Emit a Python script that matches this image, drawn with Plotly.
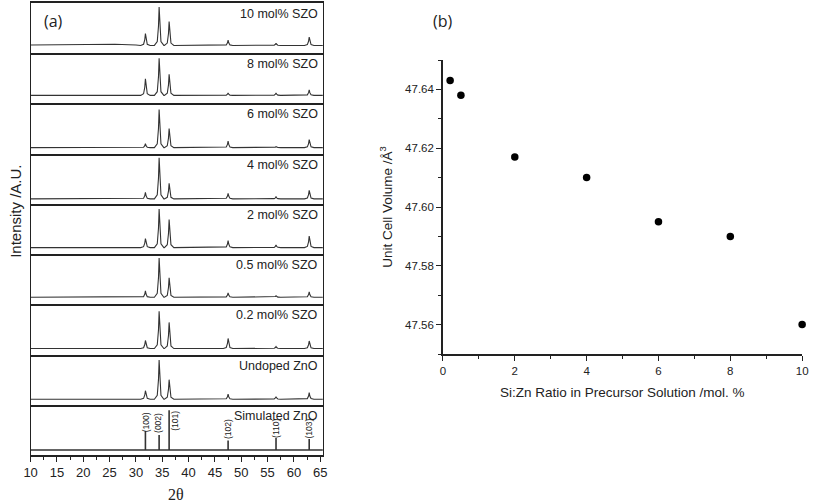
import plotly.graph_objects as go

# ---------------- data: panel (a) XRD patterns ----------------
samples = ["Simulated ZnO", "Undoped ZnO", "0.2 mol% SZO", "0.5 mol% SZO",
            "2 mol% SZO", "4 mol% SZO", "6 mol% SZO", "8 mol% SZO", "10 mol% SZO"]
peak_pos = [31.8, 34.4, 36.3, 47.5, 56.6, 62.9]
hkl_labels = ["(100)", "(002)", "(101)", "(102)", "(110)", "(103)"]
baseline = [0.10, 0.11, 0.12, 0.14, 0.13, 0.10, 0.12, 0.16, 0.155]
peak_heights = [
    [0.48, 0.40, 0.89, 0.29, 0.34, 0.32],  # Simulated
    [0.28, 0.89, 0.50, 0.21, 0.16, 0.24],  # Undoped
    [0.28, 0.86, 0.64, 0.32, 0.16, 0.27],  # 0.2
    [0.27, 0.92, 0.53, 0.23, 0.17, 0.25],  # 0.5
    [0.31, 0.90, 0.69, 0.27, 0.18, 0.36],  # 2
    [0.23, 0.92, 0.41, 0.21, 0.14, 0.27],  # 4
    [0.20, 0.88, 0.50, 0.25, 0.14, 0.28],  # 6
    [0.49, 0.90, 0.58, 0.21, 0.21, 0.27],  # 8
    [0.39, 0.92, 0.63, 0.26, 0.20, 0.32],  # 10
]
# amorphous background of the 10 mol% sample
hump_x = [10, 16, 21, 26, 30]
hump_y = [0.165, 0.175, 0.185, 0.18, 0.165]
hkl_label_x = [31.8, 34.3, 37.4, 47.5, 56.6, 62.9]
hkl_label_y = [0.66, 0.63, 0.68, 0.52, 0.52, 0.53]
two_theta_range = [10, 65.5]

# ---------------- data: panel (b) ----------------
si_zn_ratio = [0.2, 0.5, 2, 4, 6, 8, 10]
cell_volume = [47.643, 47.638, 47.617, 47.610, 47.595, 47.590, 47.560]

W, H = 817, 504
LINE = "#333333"
AX = "#222222"
SANS = "Liberation Sans, Arial, sans-serif"

# peak profile (style): offsets in degrees and fraction of peak height
prof_dx = [-0.9, -0.35, -0.12, 0, 0.12, 0.35, 0.9]
prof_f = [0, 0.1, 0.5, 1, 0.5, 0.1, 0]

fig = go.Figure()
layout = {}
ann = []

left_px, right_px = 24, 321
top_px, bot_px = 3, 455
ph = (bot_px - top_px) / len(samples)
n = len(samples)

for i, name in enumerate(samples):
    sfx = "" if i == 0 else str(i + 1)
    b = baseline[i]
    hts = peak_heights[i]
    xs, ys = [], []
    if i == 0:
        xs.append(two_theta_range[0]); ys.append(b)
        for p, h in zip(peak_pos, hts):
            xs += [p, p, p]; ys += [b, h, b]
        xs.append(two_theta_range[1]); ys.append(b)
        lw = 1.6
    else:
        if name == "10 mol% SZO":
            xs += hump_x; ys += hump_y
        else:
            xs.append(two_theta_range[0]); ys.append(b)
        for p, h in zip(peak_pos, hts):
            for dx, f in zip(prof_dx, prof_f):
                xs.append(p + dx); ys.append(b + f * (h - b))
        xs.append(two_theta_range[1]); ys.append(b)
        lw = 1.1
    fig.add_trace(go.Scatter(x=xs, y=ys, mode="lines", line=dict(color=LINE, width=lw),
                             xaxis="x" + sfx, yaxis="y" + sfx, showlegend=False,
                             hoverinfo="skip"))
    pb = bot_px - i * ph
    pt = pb - ph
    xa = dict(domain=[left_px / W, right_px / W], range=two_theta_range, anchor="y" + sfx,
              showline=True, mirror=(i == n - 1), linecolor=AX, linewidth=1.7, showgrid=False,
              zeroline=False)
    if i == 0:
        xa.update(ticks="outside", ticklen=5, tickwidth=1.1, tickcolor=AX, dtick=5, tick0=10,
                  tickfont=dict(family=SANS, size=13, color="#222"),
                  minor=dict(ticks="outside", ticklen=3, tickwidth=1, tickcolor=AX, dtick=2.5))
    else:
        xa.update(showticklabels=False, ticks="", matches="x")
    ya = dict(domain=[1 - pb / H, 1 - pt / H], range=[0, 1], anchor="x" + sfx,
              showline=True, mirror=True, linecolor=AX, linewidth=1.3, showgrid=False,
              zeroline=False, showticklabels=False, ticks="")
    layout["xaxis" + sfx] = xa
    layout["yaxis" + sfx] = ya
    ann.append(dict(text=name, xref="paper", yref="paper", x=318 / W, y=1 - (pt + 2) / H,
                    xanchor="right", yanchor="top", showarrow=False,
                    font=dict(family=SANS, size=12.5, color="#222")))

# hkl labels
for lab, lx, ly in zip(hkl_labels, hkl_label_x, hkl_label_y):
    ann.append(dict(text=lab, xref="x", yref="y", x=lx, y=ly, textangle=-90,
                    xanchor="center", yanchor="middle",
                    showarrow=False, font=dict(family=SANS, size=8.5, color="#222")))

# panel (b)
fig.add_trace(go.Scatter(x=si_zn_ratio, y=cell_volume, mode="markers",
                         marker=dict(color="black", size=7.5), xaxis="x10", yaxis="y10",
                         showlegend=False, cliponaxis=False))
layout["xaxis10"] = dict(domain=[443 / W, 808 / W], range=[0, 10], anchor="y10",
                         showline=True, linecolor=AX, linewidth=1.5, showgrid=False,
                         zeroline=False, ticks="outside", ticklen=5, tickwidth=1.2,
                         tickcolor=AX, dtick=2, tick0=0,
                         tickfont=dict(family=SANS, size=11.5, color="#222"),
                         minor=dict(ticks="outside", ticklen=3, tickwidth=1, tickcolor=AX, dtick=1))
layout["yaxis10"] = dict(domain=[1 - 354 / H, 1 - 60 / H], range=[47.55, 47.65], anchor="x10",
                         showline=True, linecolor=AX, linewidth=1.5, showgrid=False,
                         zeroline=False, ticks="outside", ticklen=5, tickwidth=1.2,
                         tickcolor=AX, dtick=0.02, tick0=47.56, tickformat=".2f",
                         tickfont=dict(family=SANS, size=11.5, color="#222"),
                         minor=dict(ticks="outside", ticklen=3, tickwidth=1, tickcolor=AX, dtick=0.01))

ann += [
    dict(text="Si:Zn Ratio in Precursor Solution /mol. %", xref="paper", yref="paper",
         x=625 / W, y=1 - 392 / H, xanchor="center", yanchor="middle", showarrow=False,
         font=dict(family=SANS, size=13.5, color="#222")),
    dict(text="Unit Cell Volume /Å<sup>3</sup>", xref="paper", yref="paper", x=385 / W,
         y=1 - 207 / H, textangle=-90, xanchor="center", yanchor="middle", showarrow=False,
         font=dict(family=SANS, size=13.5, color="#222")),
    dict(text="Intensity /A.U.", xref="paper", yref="paper", x=8 / W, y=1 - 211 / H,
         textangle=-90, xanchor="center", yanchor="middle", showarrow=False,
         font=dict(family=SANS, size=15, color="#222")),
    dict(text="2θ", xref="paper", yref="paper", x=172 / W, y=1 - 494 / H,
         xanchor="center", yanchor="middle", showarrow=False,
         font=dict(family="Liberation Serif, Times New Roman, serif", size=16, color="#222")),
    dict(text="(a)", xref="paper", yref="paper", x=47 / W, y=1 - 21 / H,
         xanchor="center", yanchor="middle", showarrow=False,
         font=dict(family="Open Sans, sans-serif", size=16, color="#222")),
    dict(text="(b)", xref="paper", yref="paper", x=443 / W, y=1 - 21 / H,
         xanchor="center", yanchor="middle", showarrow=False,
         font=dict(family="Open Sans, sans-serif", size=16, color="#222")),
]

fig.update_layout(width=W, height=H, margin=dict(l=0, r=0, t=0, b=0),
                  plot_bgcolor="white", paper_bgcolor="white", annotations=ann, **layout)
fig.write_html("out.html", config={"displayModeBar": False},
               post_script="document.body.style.margin='0';document.body.style.overflow='hidden';")
